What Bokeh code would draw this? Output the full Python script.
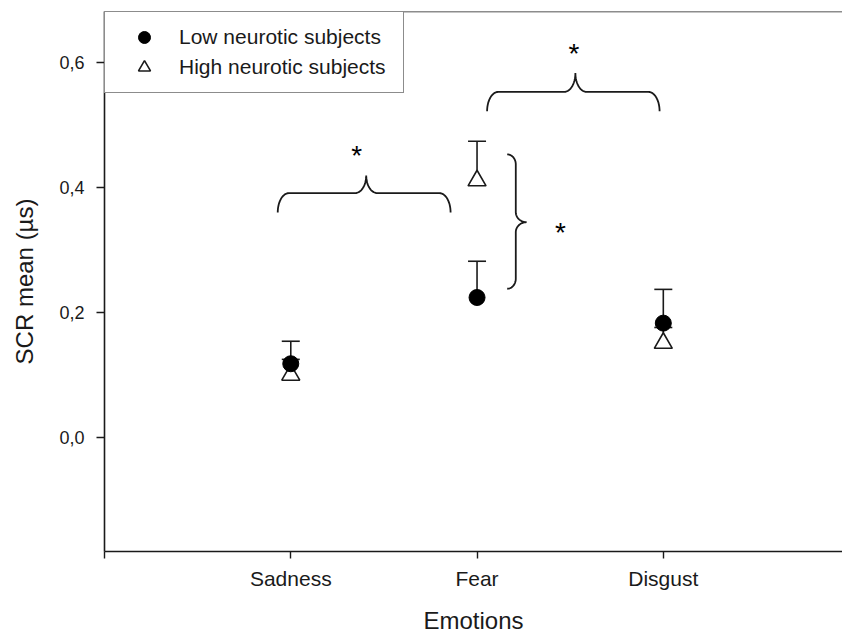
import numpy as np
from bokeh.plotting import figure
from bokeh.models import (Range1d, FixedTicker, CustomJSTickFormatter, Whisker, TeeHead,
                          ColumnDataSource, Legend, LegendItem, Span)
from bokeh.core.properties import value
from bokeh.embed import file_html
from bokeh.resources import INLINE

# ---------------- data ----------------
categories = ["Sadness", "Fear", "Disgust"]
positions = [1, 2, 3]
low_mean = [0.118, 0.224, 0.183]
low_sem = [0.036, 0.058, 0.054]
high_mean = [0.100, 0.411, 0.151]
high_sem = [0.025, 0.063, 0.025]
y_ticks = [0.0, 0.2, 0.4, 0.6]
series_labels = ["Low neurotic subjects", "High neurotic subjects"]

FONT = "Liberation Sans"
INK = "#1a1a1a"

p = figure(width=842, height=637, output_backend="svg", toolbar_location=None,
           x_range=Range1d(0, 3.962), y_range=Range1d(-0.1824, 0.6816),
           min_border_left=104, min_border_right=0, min_border_top=11, min_border_bottom=86)
p.outline_line_color = None
p.xgrid.visible = False
p.ygrid.visible = False
p.background_fill_color = "white"

# axes
xa = p.xaxis[0]
xa.ticker = FixedTicker(ticks=[0] + positions)
xa.major_label_overrides = {0: ""} | {pos: c for pos, c in zip(positions, categories)}
xa.minor_tick_line_color = None
xa.major_tick_out = 7
xa.major_tick_in = 0
xa.major_label_standoff = 8
xa.axis_line_width = 1.6
xa.axis_line_color = INK
xa.major_tick_line_color = INK
xa.major_tick_line_width = 1.4
xa.major_label_text_font = FONT
xa.major_label_text_font_size = "21px"
xa.major_label_text_color = INK
xa.axis_label = "Emotions"
xa.axis_label_text_font = FONT
xa.axis_label_text_font_size = "24px"
xa.axis_label_text_font_style = "normal"
xa.axis_label_text_color = INK
xa.axis_label_standoff = 14

ya = p.yaxis[0]
ya.ticker = FixedTicker(ticks=y_ticks)
ya.formatter = CustomJSTickFormatter(code="return tick.toFixed(1).replace('.', ',');")
ya.minor_tick_line_color = None
ya.major_tick_out = 8
ya.major_tick_in = 0
ya.major_label_standoff = 12
ya.axis_line_width = 1.6
ya.axis_line_color = INK
ya.major_tick_line_color = INK
ya.major_tick_line_width = 1.4
ya.major_label_text_font = FONT
ya.major_label_text_font_size = "18px"
ya.major_label_text_color = INK
ya.axis_label = "SCR mean (µs)"
ya.axis_label_text_font = FONT
ya.axis_label_text_font_size = "24px"
ya.axis_label_text_font_style = "normal"
ya.axis_label_text_color = INK
ya.axis_label_standoff = 18

# top frame line
p.add_layout(Span(location=0.6816, dimension="width", line_color=INK, line_width=1.6))

# ---------------- data marks ----------------
src_high = ColumnDataSource(dict(x=positions, y=high_mean,
                                 upper=[m + s for m, s in zip(high_mean, high_sem)]))
src_low = ColumnDataSource(dict(x=positions, y=low_mean,
                                upper=[m + s for m, s in zip(low_mean, low_sem)]))

w_high = Whisker(source=src_high, base="x", lower="y", upper="upper", dimension="height",
                 line_color=INK, line_width=1.6, lower_head=None,
                 upper_head=TeeHead(size=18, line_color=INK, line_width=1.6))
p.add_layout(w_high)
r_high = p.scatter("x", "y", source=src_high, marker="triangle", size=18,
                   fill_color="white", line_color=INK, line_width=1.6)

w_low = Whisker(source=src_low, base="x", lower="y", upper="upper", dimension="height",
                line_color=INK, line_width=1.6, lower_head=None,
                upper_head=TeeHead(size=18, line_color=INK, line_width=1.6))
p.add_layout(w_low)
r_low = p.scatter("x", "y", source=src_low, marker="circle", size=16,
                  fill_color="black", line_color="black", line_width=1)


# ---------------- significance braces ----------------
def _arc(cx, cy, ax, ay, t0, t1, n=16):
    t = np.radians(np.linspace(t0, t1, n))
    return cx + ax * np.cos(t), cy + ay * np.sin(t)


def hbrace(x0, x1, xt, y_end, y_flat, y_tip, r):
    parts = [
        _arc(x0 + r, y_end, r, y_flat - y_end, 180, 90),
        _arc(xt - r, y_tip, r, y_tip - y_flat, 270, 360),
        _arc(xt + r, y_tip, r, y_tip - y_flat, 180, 270),
        _arc(x1 - r, y_end, r, y_flat - y_end, 90, 0),
    ]
    return np.concatenate([a[0] for a in parts]), np.concatenate([a[1] for a in parts])


def vbrace(x_end, x_line, x_tip, y_top, y_bot, yt, r):
    parts = [
        _arc(x_end, y_top - r, x_line - x_end, r, 90, 0),
        _arc(x_tip, yt + r, x_tip - x_line, r, 180, 270),
        _arc(x_tip, yt - r, x_tip - x_line, r, 90, 180),
        _arc(x_end, y_bot + r, x_line - x_end, r, 0, -90),
    ]
    return np.concatenate([a[0] for a in parts]), np.concatenate([a[1] for a in parts])


bx1, by1 = hbrace(0.930, 1.858, 1.405, 0.360, 0.391, 0.419, 0.06)
bx2, by2 = hbrace(2.054, 2.980, 2.528, 0.522, 0.553, 0.583, 0.06)
bx3, by3 = vbrace(2.162, 2.208, 2.266, 0.453, 0.238, 0.3445, 0.016)
for bx, by in [(bx1, by1), (bx2, by2), (bx3, by3)]:
    p.line(bx, by, line_color=INK, line_width=1.8)

p.text(x=[1.354, 2.520, 2.448], y=[0.459, 0.622, 0.336], text=["*", "*", "*"],
       text_font=value(FONT), text_font_size="28px", text_align="center",
       text_baseline="alphabetic", y_offset=5, text_color="black")

# ---------------- legend ----------------
legend = Legend(items=[LegendItem(label=series_labels[0], renderers=[r_low]),
                       LegendItem(label=series_labels[1], renderers=[r_high])],
                location="top_left", margin=0, padding=10, spacing=0,
                glyph_height=30, glyph_width=58, label_standoff=6, label_width=214,
                label_text_font=FONT, label_text_font_size="21px", label_text_color=INK,
                border_line_color=INK, border_line_width=1.6,
                background_fill_color="white", background_fill_alpha=1.0)
p.add_layout(legend)

open("out.html", "w").write(file_html(p, INLINE))
